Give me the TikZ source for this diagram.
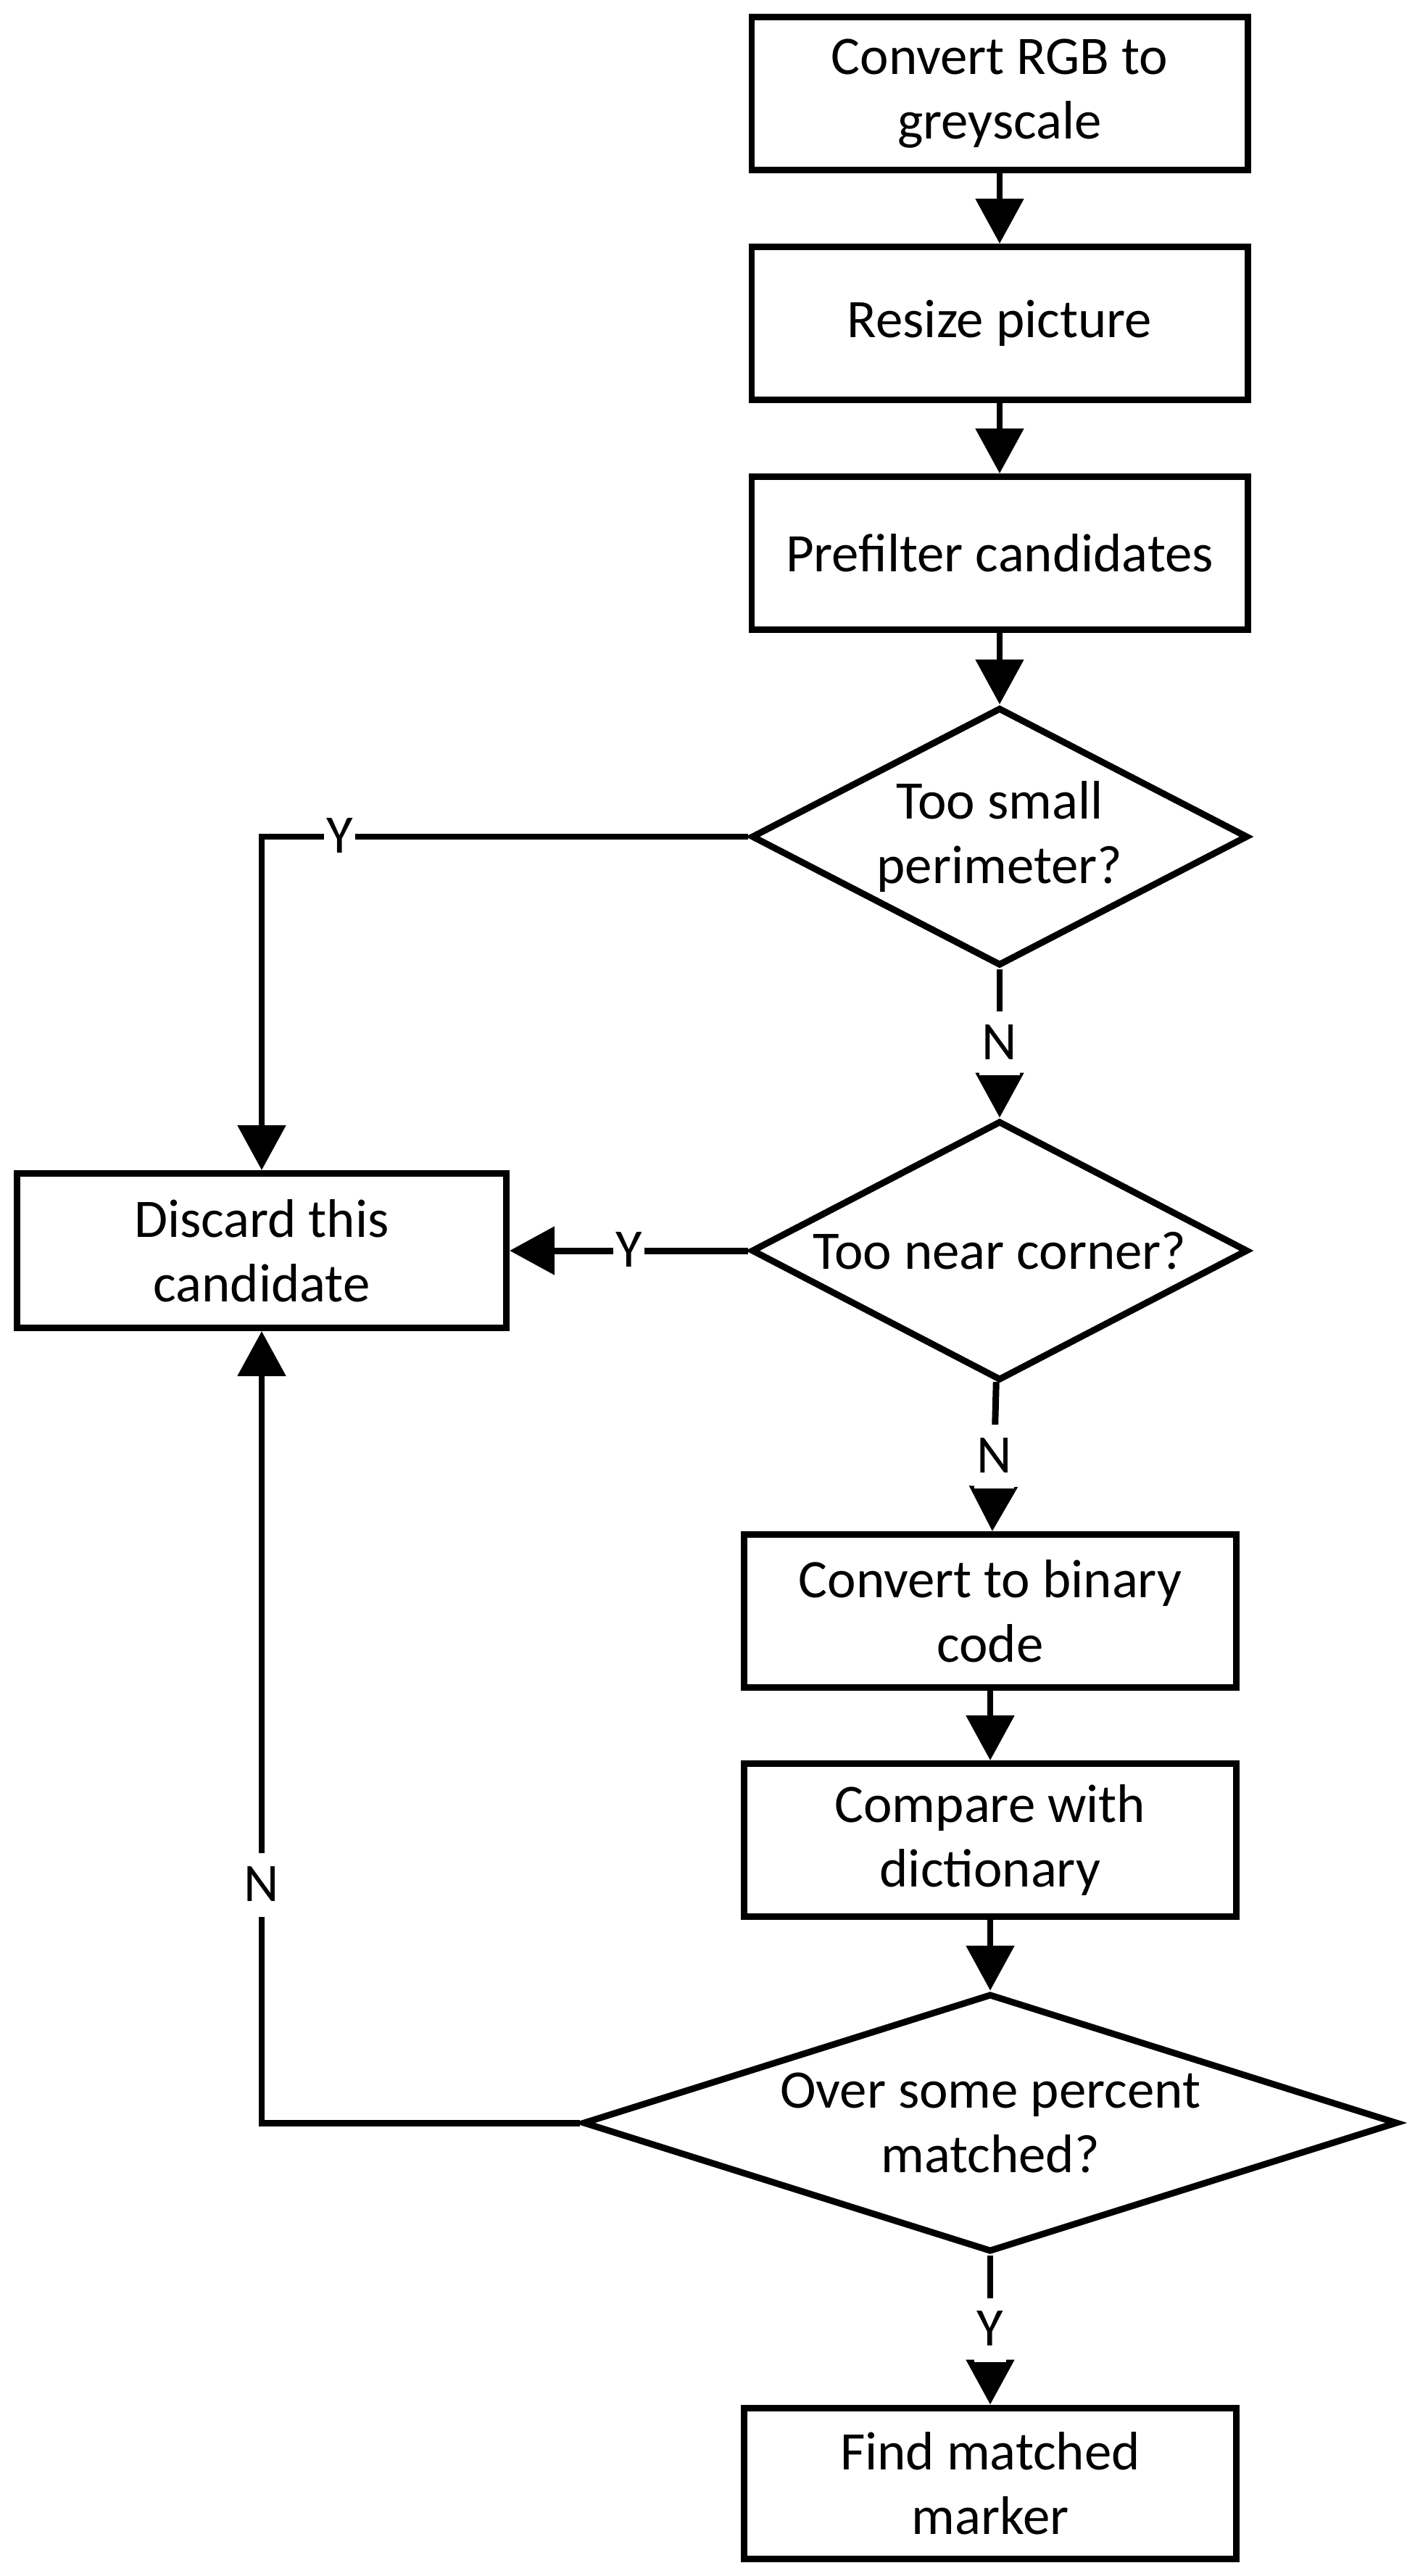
\documentclass[tikz,border=0pt]{standalone}
\usepackage{fontspec}
\setmainfont{Carlito}
\usetikzlibrary{arrows.meta,shapes.geometric}
\tikzset{
	stepbox/.style={draw, line width=2.55pt, minimum width=6.84cm, minimum height=2.11cm, align=center, inner sep=0pt},
	choice/.style={draw, diamond, line width=2.55pt, inner sep=0pt},
	flow/.style={line width=2.55pt, -{Triangle[length=6.2mm,width=6.5mm]}},
	lbl/.style={fill=white, inner xsep=1pt, inner ysep=0pt, text height=6.6mm, text depth=2.2mm},
}

\begin{document}
\begin{tikzpicture}[font=\fontsize{21.3}{25.3}\selectfont]
	%%%%% START %%%%%
	\useasboundingbox (0,0) rectangle (19.51,-35.53);
	
	\node[stepbox] (rgb) at (13.79,-1.29) {Convert RGB to\\greyscale};
	\node[stepbox] (resize) at (13.79,-4.46) {Resize picture};
	\node[stepbox] (prefilter) at (13.79,-7.63) {Prefilter candidates};
	
	\node[choice, minimum width=6.85cm, minimum height=3.56cm, label={[align=center]center:Too small\\perimeter?}] (small) at (13.79,-11.54) {};
	\node[choice, minimum width=6.85cm, minimum height=3.58cm, label={center:Too near corner?}] (near) at (13.79,-17.25) {};
	
	\node[stepbox, minimum width=6.75cm, minimum height=2.13cm] (discard) at (3.61,-17.25) {Discard this\\candidate};
	
	\node[stepbox, minimum width=6.79cm] (binary) at (13.66,-22.22) {Convert to binary\\code};
	\node[stepbox, minimum width=6.79cm] (compare) at (13.66,-25.38) {Compare with\\dictionary};
	
	\node[choice, minimum width=11.24cm, minimum height=3.56cm, label={[align=center]center:Over some percent\\matched?}] (matched) at (13.66,-29.28) {};
	
	\node[stepbox, minimum width=6.79cm, minimum height=2.08cm] (found) at (13.66,-34.25) {Find matched\\marker};
	
	\coordinate (ycorner) at (small.west -| discard.north);
	\coordinate (ncorner) at (matched.west -| discard.south);
	
	\draw[flow] (rgb) -- (resize);
	\draw[flow] (resize) -- (prefilter);
	\draw[flow] (prefilter) -- (small);
	\draw[flow] (small) -- node[lbl] {N} (near);
	\draw[flow] (small.west) -- node[lbl, pos=0.84] {Y} (ycorner) -- (discard.north);
	\draw[flow] (near) -- node[lbl] {Y} (discard);
	\draw[flow] (near) -- node[lbl] {N} (binary);
	\draw[flow] (binary) -- (compare);
	\draw[flow] (compare) -- (matched);
	\draw[flow] (matched) -- node[lbl] {Y} (found);
	\draw[flow] (matched.west) -- (ncorner) -- node[lbl, pos=0.3] {N} (discard.south);
	
	%%%%% END %%%%%
\end{tikzpicture}
\end{document}
